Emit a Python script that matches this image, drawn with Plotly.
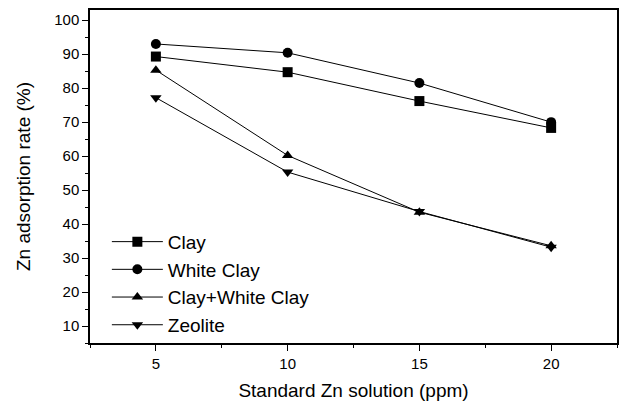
import plotly.graph_objects as go

x_ppm = [5, 10, 15, 20]
clay = [89.3, 84.7, 76.2, 68.3]
white_clay = [93.0, 90.4, 81.5, 70.0]
clay_white = [85.3, 60.2, 43.5, 33.6]
zeolite = [77.2, 55.3, 43.7, 33.2]

series = [
    ("Clay", clay, "square"),
    ("White Clay", white_clay, "circle"),
    ("Clay+White Clay", clay_white, "triangle-up"),
    ("Zeolite", zeolite, "triangle-down"),
]

fig = go.Figure()
for name, vals, sym in series:
    fig.add_trace(go.Scatter(
        x=x_ppm, y=vals, name=name, mode="lines+markers",
        line=dict(color="black", width=1),
        marker=dict(symbol=sym, size=10, color="black"),
    ))

font = "Liberation Sans, Arial, sans-serif"
fig.update_layout(
    width=624, height=401,
    margin=dict(l=90, r=7, t=10, b=58),
    paper_bgcolor="white", plot_bgcolor="white",
    font=dict(family=font, color="black", size=15),
    showlegend=True,
    legend=dict(x=0.032, y=0.361, xanchor="left", yanchor="top",
                font=dict(size=19), bgcolor="rgba(0,0,0,0)",
                itemwidth=51, tracegroupgap=0),
    xaxis=dict(range=[2.5, 22.5], tickvals=[5, 10, 15, 20], automargin=False,
               ticks="outside", ticklen=6, tickwidth=1, tickcolor="black",
               showline=True, linecolor="black", linewidth=1.5, mirror=True,
               showgrid=False, zeroline=False,
               minor=dict(dtick=2.5, tick0=0, ticks="outside", ticklen=3, tickcolor="black"),
               tickfont=dict(size=15),
               title=dict(text="Standard Zn solution (ppm)", font=dict(size=19), standoff=18)),
    yaxis=dict(range=[5, 103], tickvals=[10, 20, 30, 40, 50, 60, 70, 80, 90, 100], automargin=False,
               ticks="outside", ticklen=6, tickwidth=1, tickcolor="black",
               showline=True, linecolor="black", linewidth=1.5, mirror=True,
               showgrid=False, zeroline=False,
               minor=dict(dtick=5, tick0=0, ticks="outside", ticklen=3, tickcolor="black"),
               tickfont=dict(size=15),
               title=dict(text="Zn adsorption rate (%)", font=dict(size=19), standoff=19)),
)

fig.write_html("out.html")
